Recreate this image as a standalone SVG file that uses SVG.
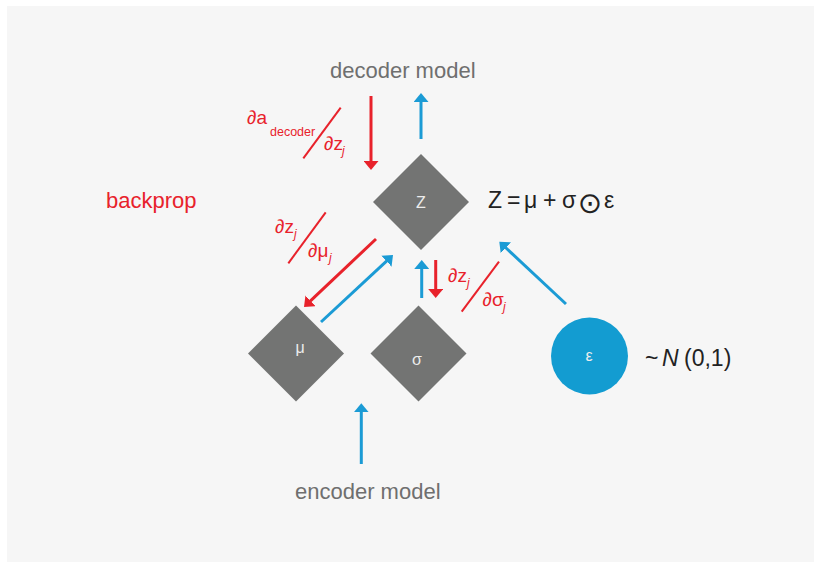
<svg xmlns="http://www.w3.org/2000/svg" width="814" height="562" viewBox="0 0 814 562">
<defs>
<style>
.lbl{font-family:"Liberation Sans",Arial,sans-serif;font-size:22px;fill:#6f6f6f}
.red{fill:#e8222b}
.frac{font-family:"Liberation Sans",Arial,sans-serif;font-size:19px;fill:#e8222b}
.sub{font-size:12px;font-style:italic}
.dm{fill:#737473}
.in{font-family:"Liberation Sans",Arial,sans-serif;font-size:16px;fill:#ececec;text-anchor:middle}
.eq{font-family:"Liberation Sans",Arial,sans-serif;font-size:23px;fill:#222}
.r{stroke:#e8222b;stroke-width:3;fill:none;marker-end:url(#ar)}
.b{stroke:#1b9bd5;stroke-width:3;fill:none;marker-end:url(#ab)}
.sl{stroke:#e8222b;stroke-width:2}
</style>
<marker id="ar" viewBox="0 0 9 15" refX="0.5" refY="7.5" markerWidth="9" markerHeight="15" markerUnits="userSpaceOnUse" orient="auto"><path d="M0,0 L9,7.5 L0,15 z" fill="#e8222b"/></marker>
<marker id="ab" viewBox="0 0 9 15" refX="0.5" refY="7.5" markerWidth="9" markerHeight="15" markerUnits="userSpaceOnUse" orient="auto"><path d="M0,0 L9,7.5 L0,15 z" fill="#1b9bd5"/></marker>
</defs>
<rect x="7" y="6" width="807" height="556" fill="#f6f6f6"/>

<g id="labels">
<text class="lbl" x="330" y="78">decoder model</text>
<text class="lbl" x="295" y="499">encoder model</text>
<text class="lbl red" x="106" y="208">backprop</text>
</g>

<g id="node-z">
<polygon class="dm" points="421,154 469,202 421,250 373,202"/>
<text class="in" x="421" y="208">Z</text>
</g>
<g id="node-mu">
<polygon class="dm" points="296,305.5 344,353.5 296,401.5 248,353.5"/>
<text class="in" x="300" y="353">μ</text>
</g>
<g id="node-sigma">
<polygon class="dm" points="418.5,305.5 466.5,353.5 418.5,401.5 370.5,353.5"/>
<text class="in" x="417" y="365">σ</text>
</g>
<g id="node-eps">
<circle cx="589.5" cy="356" r="38.5" fill="#139cd1"/>
<text class="in" x="589" y="361">ε</text>
</g>

<g id="formula">
<text class="eq" y="208"><tspan x="488">Z</tspan><tspan x="507">=</tspan><tspan x="524">μ</tspan><tspan x="543">+</tspan><tspan x="562">σ</tspan><tspan x="604">ε</tspan></text>
<text x="590" y="213" font-family="DejaVu Sans,sans-serif" font-size="29" fill="#222" text-anchor="middle">⊙</text>
<text class="eq" y="366" font-size="20"><tspan x="645">~</tspan><tspan x="662" font-style="italic">N</tspan><tspan x="684">(0,1)</tspan></text>
</g>

<g id="fractions">
<text class="frac"><tspan x="247" y="124">∂a</tspan><tspan x="270" y="136" font-size="12.5">decoder</tspan></text>
<text class="frac"><tspan x="324" y="150">∂z</tspan><tspan class="sub" x="342" y="155">j</tspan></text>
<line class="sl" x1="340.7" y1="107.7" x2="303.3" y2="158.3"/>
<text class="frac"><tspan x="275" y="233">∂z</tspan><tspan class="sub" x="294" y="238">j</tspan></text>
<text class="frac"><tspan x="308" y="257">∂μ</tspan><tspan class="sub" x="329" y="262">j</tspan></text>
<line class="sl" x1="325.7" y1="212.3" x2="288.3" y2="263.3"/>
<text class="frac"><tspan x="448" y="282">∂z</tspan><tspan class="sub" x="467" y="287">j</tspan></text>
<text class="frac"><tspan x="482.5" y="306">∂σ</tspan><tspan class="sub" x="503" y="311">j</tspan></text>
<line class="sl" x1="499" y1="261.7" x2="461.7" y2="311.7"/>
</g>

<g id="connectors">
<line class="r" x1="371" y1="96" x2="371" y2="161.5"/>
<line class="b" x1="421" y1="139" x2="421" y2="101.5"/>
<line class="r" x1="376" y1="239" x2="310.2" y2="301.2"/>
<line class="b" x1="321" y1="322" x2="386.8" y2="260.8"/>
<line class="b" x1="421.7" y1="298" x2="421.7" y2="268.5"/>
<line class="r" x1="435.7" y1="260" x2="435.7" y2="289.5"/>
<line class="b" x1="566" y1="304" x2="505.5" y2="247.5"/>
<line class="b" x1="361.3" y1="464" x2="361.3" y2="411.8"/>
</g>
</svg>
